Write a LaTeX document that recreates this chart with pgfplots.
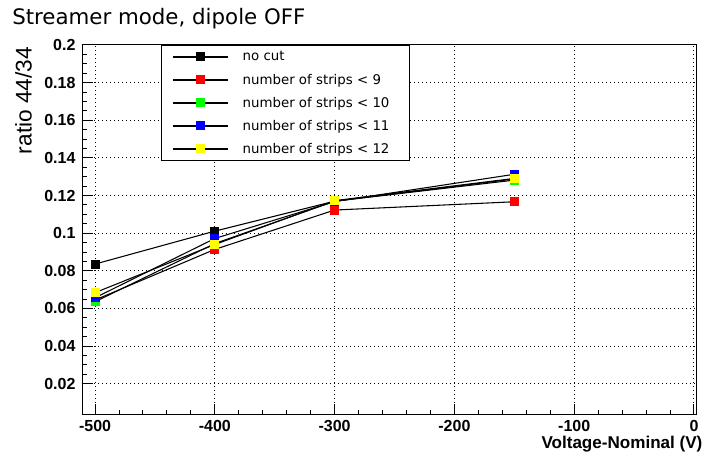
\documentclass[border=0pt]{standalone}
\usepackage{fontspec}
\setmainfont{Liberation Sans}
\newfontfamily\djv{DejaVu Sans}
\usepackage{pgfplots}
\pgfplotsset{compat=1.18}
\definecolor{rred}{RGB}{255,0,0}
\definecolor{rgreen}{RGB}{0,255,0}
\definecolor{rblue}{RGB}{0,0,255}
\definecolor{ryellow}{RGB}{255,255,0}
\begin{document}
\begin{tikzpicture}
\useasboundingbox (0,0) rectangle (530.25pt,342pt);
\begin{axis}[
  at={(61.5pt,30.75pt)}, anchor=south west,
  scale only axis, width=460.5pt, height=277.5pt,
  xmin=-510.9, xmax=1.7, ymin=0.0034, ymax=0.2,
  axis line style={line width=0.75pt},
  xtick={-500,-400,-300,-200,-100,0},
  xticklabels={-500,-400,-300,-200,-100,0},
  ytick={0.02,0.04,0.06,0.08,0.1,0.12,0.14,0.16,0.18,0.2},
  yticklabels={0.02,0.04,0.06,0.08,0.1,0.12,0.14,0.16,0.18,0.2},
  minor x tick num=4, minor y tick num=3,
  tick align=inside, xtick pos=left, ytick pos=left,
  major tick length=8.25pt, minor tick length=3.75pt,
  tick style={black, line width=0.75pt},
  grid=major,
  major grid style={black, line width=0.75pt, dash pattern=on 0.75pt off 2.25pt},
  xticklabel style={font=\fontsize{12}{14}\selectfont\bfseries, anchor=base, inner sep=0pt, yshift=-12.5pt},
  yticklabel style={font=\fontsize{12}{14}\selectfont\bfseries, anchor=east, inner sep=0pt, xshift=-4.7pt},
  legend cell align=left,
  legend style={at={(0.1287,1)}, anchor=north west, draw=black, line width=0.75pt, fill=white,
    font=\djv\fontsize{10}{12}\selectfont, inner xsep=8.25pt, inner ysep=0pt,
    row sep=0pt, column sep=0pt,
    nodes={inner sep=0pt, minimum height=17.25pt}},
  legend image code/.code={
    \path[draw=none, fill=none] (0pt,-1pt) rectangle (52.25pt,1pt);
    \draw[mark repeat=2, mark phase=2, #1] plot coordinates {(0pt,0pt) (20.625pt,0pt) (41.25pt,0pt)};
  },
]
\addplot[black, line width=0.8pt, mark=square*, mark size=3pt, mark options={solid, draw=black, fill=black, line width=0pt}]
  coordinates {(-500,0.0836) (-400,0.1011) (-300,0.1170) (-150,0.1288)};
\addlegendentry{no cut}
\addplot[black, line width=0.8pt, mark=square*, mark size=3pt, mark options={solid, draw=rred, fill=rred, line width=0pt}]
  coordinates {(-500,0.0645) (-400,0.0914) (-300,0.1123) (-150,0.1167)};
\addlegendentry{number of strips < 9}
\addplot[black, line width=0.8pt, mark=square*, mark size=3pt, mark options={solid, draw=rgreen, fill=rgreen, line width=0pt}]
  coordinates {(-500,0.0636) (-400,0.0945) (-300,0.1170) (-150,0.1282)};
\addlegendentry{number of strips < 10\hspace*{7pt}}
\addplot[black, line width=0.8pt, mark=square*, mark size=3pt, mark options={solid, draw=rblue, fill=rblue, line width=0pt}]
  coordinates {(-500,0.0657) (-400,0.0972) (-300,0.1168) (-150,0.1313)};
\addlegendentry{number of strips < 11\hspace*{7pt}}
\addplot[black, line width=0.8pt, mark=square*, mark size=3pt, mark options={solid, draw=ryellow, fill=ryellow, line width=0pt}]
  coordinates {(-500,0.0684) (-400,0.0940) (-300,0.1173) (-150,0.1291)};
\addlegendentry{number of strips < 12\hspace*{7pt}}
\end{axis}
\node[anchor=base west, inner sep=0pt, font=\djv\fontsize{16}{19}\selectfont] at (9pt,323.25pt) {Streamer mode, dipole OFF};
\node[anchor=base east, rotate=90, inner sep=0pt, font=\fontsize{17}{20}\selectfont] at (23.8pt,307pt) {ratio 44/34};
\node[anchor=base east, inner sep=0pt, font=\fontsize{12.8}{15}\selectfont\bfseries] at (527pt,5.25pt) {Voltage-Nominal (V)};
\end{tikzpicture}
\end{document}
